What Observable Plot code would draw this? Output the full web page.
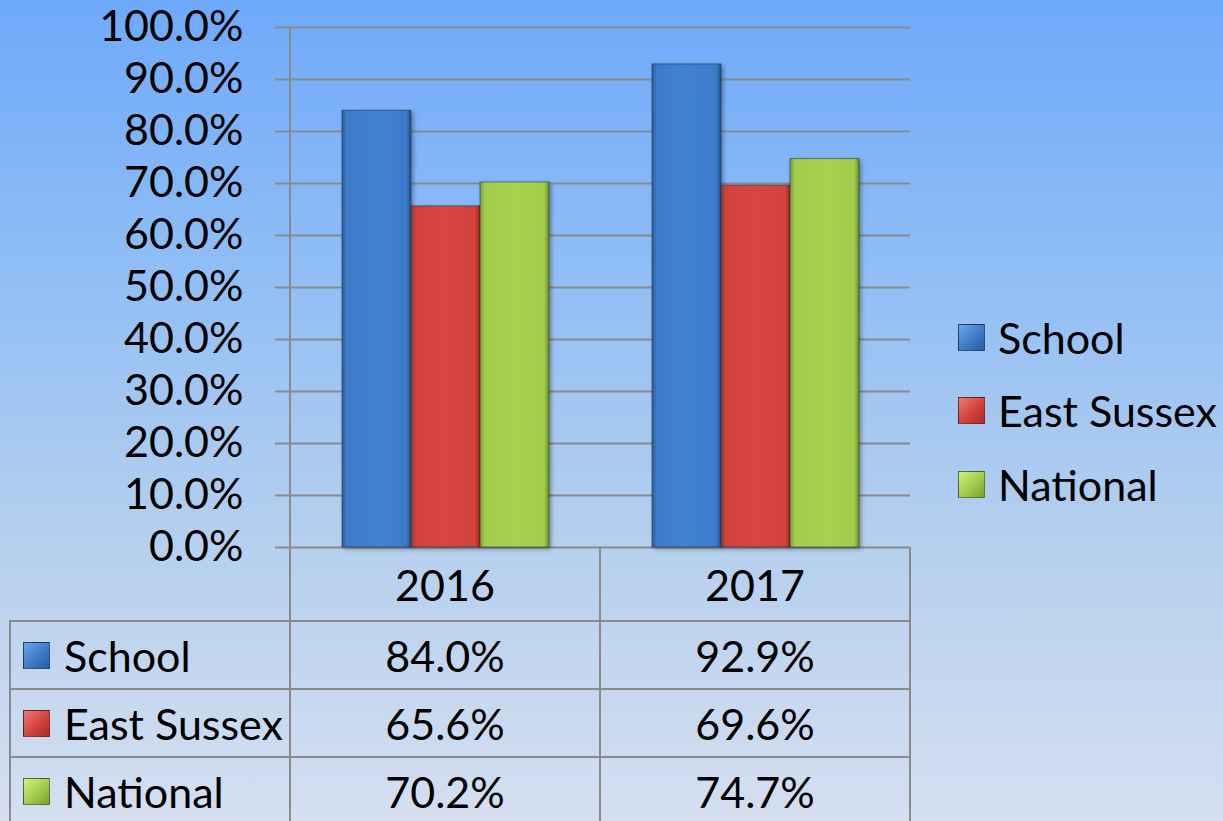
<!DOCTYPE html>
<html>
<head>
<meta charset="utf-8">
<script src="https://cdn.jsdelivr.net/npm/d3@7"></script>
<script src="https://cdn.jsdelivr.net/npm/@observablehq/plot@0.6"></script>
<style>
  html, body { margin: 0; padding: 0; }
  body {
    width: 1223px; height: 821px; overflow: hidden;
    background: linear-gradient(to bottom, #6ea9fa 0%, #8dbcf6 30%, #b4cfee 65%, #d5dff0 100%);
    font-family: Lato, "Open Sans", sans-serif;
  }
  #wrap { position: relative; width: 1223px; height: 821px; }
  #chart { position: absolute; left: 0; top: 0; }
  .cell { position: absolute; box-sizing: border-box; display: flex; align-items: center; font-size: 43px; color: #000; }
  .hline { position: absolute; height: 2px; background: #8a8a8a; }
  .vline { position: absolute; width: 2px; background: #8a8a8a; }
  .sw { width: 27px; height: 27px; box-sizing: border-box; border: 1px solid rgba(0,0,0,0.45); flex: none; }
  .legend-item { position: absolute; display: flex; align-items: center; font-size: 43px; }
</style>
</head>
<body>
<svg width="0" height="0" style="position:absolute">
  <defs>
    <linearGradient id="g0" x1="0" x2="1" y1="0" y2="0">
      <stop offset="0" stop-color="#2b5c9e"/><stop offset="0.07" stop-color="#3d7bc9"/>
      <stop offset="0.5" stop-color="#4282d3"/><stop offset="0.93" stop-color="#3d7bc9"/><stop offset="1" stop-color="#24508c"/>
    </linearGradient>
    <linearGradient id="g1" x1="0" x2="1" y1="0" y2="0">
      <stop offset="0" stop-color="#a4302c"/><stop offset="0.07" stop-color="#d3423d"/>
      <stop offset="0.5" stop-color="#d84640"/><stop offset="0.93" stop-color="#d3423d"/><stop offset="1" stop-color="#962a27"/>
    </linearGradient>
    <linearGradient id="g2" x1="0" x2="1" y1="0" y2="0">
      <stop offset="0" stop-color="#7a9c33"/><stop offset="0.07" stop-color="#a2cc4c"/>
      <stop offset="0.5" stop-color="#a8d152"/><stop offset="0.93" stop-color="#a2cc4c"/><stop offset="1" stop-color="#6e8e2c"/>
    </linearGradient>
    <filter id="shadow" x="-10%" y="-5%" width="130%" height="115%">
      <feDropShadow dx="2" dy="2" stdDeviation="2" flood-color="#000" flood-opacity="0.35"/>
    </filter>
  </defs>
</svg>
<div id="wrap"><div id="chart"></div></div>
<script>
// ---- data ----
const years = ["2016", "2017"];
const series = ["School", "East Sussex", "National"];
const school = [84.0, 92.9];
const eastSussex = [65.6, 69.6];
const national = [70.2, 74.7];
const yTicks = [0, 10, 20, 30, 40, 50, 60, 70, 80, 90, 100];

const seriesValues = [school, eastSussex, national];
const swatchCss = [
  "linear-gradient(135deg,#6aa6ee,#3d7bc9 55%,#2b5c9e)",
  "linear-gradient(135deg,#f07a74,#d3423d 55%,#a4302c)",
  "linear-gradient(135deg,#d4f07c,#a2cc4c 55%,#7a9c33)"
];
const data = years.flatMap((yr, i) => series.map((s, j) => ({year: yr, series: s, value: seriesValues[j][i], idx: j})));
const fmt = v => v.toFixed(1) + "%";

const chart = Plot.plot({
  width: 1223,
  height: 551,
  marginLeft: 290,
  marginRight: 313,
  marginTop: 27,
  marginBottom: 4,
  style: {background: "transparent", fontFamily: "Lato, 'Open Sans', sans-serif", fontSize: "43px", color: "#000", overflow: "visible"},
  fx: {domain: years, padding: 0, axis: null, label: null},
  x: {domain: series, paddingInner: 0, paddingOuter: 0.72, axis: null},
  y: {domain: [0, 100], ticks: yTicks, tickFormat: fmt, tickSize: 15, tickPadding: 32, label: null},
  color: {type: "identity"},
  marks: [
    Plot.ruleY(yTicks, {stroke: "#8a8a8a", strokeWidth: 2}),
    Plot.barY(data, {fx: "year", x: "series", y: "value", fill: d => `url(#g${d.idx})`, stroke: "#1f2f40", strokeOpacity: 0.55, strokeWidth: 1})
  ]
});
chart.querySelectorAll('[aria-label^="y-axis"] line, [aria-label^="y-axis"] path').forEach(el => {
  el.setAttribute("stroke", "#8a8a8a");
  el.setAttribute("stroke-width", "2");
});
chart.querySelectorAll('[aria-label="bar"] rect').forEach(el => el.setAttribute("filter", "url(#shadow)"));
document.getElementById("chart").appendChild(chart);

// ---- data table & legend (HTML overlay) ----
const wrap = document.getElementById("wrap");
function add(cls, css, html) {
  const d = document.createElement("div");
  d.className = cls;
  Object.assign(d.style, css);
  if (html != null) d.innerHTML = html;
  wrap.appendChild(d);
  return d;
}
const colEdges = [10, 290, 600, 910];
const headerTop = 547, headerH = 74, rowH = 68;
add("vline", {left: "289px", top: "27px", height: "520px"});
years.forEach((yr, i) => {
  add("cell", {left: colEdges[i + 1] + "px", top: headerTop + "px", width: (colEdges[i + 2] - colEdges[i + 1]) + "px", height: headerH + "px", justifyContent: "center"}, yr);
});
[1, 2, 3].forEach(k => add("vline", {left: (colEdges[k] - 1) + "px", top: headerTop + "px", height: (821 - headerTop) + "px"}));
add("vline", {left: (colEdges[0] - 1) + "px", top: (headerTop + headerH) + "px", height: "300px"});
series.forEach((s, j) => {
  const top = headerTop + headerH + j * rowH;
  add("hline", {left: (colEdges[0] - 1) + "px", top: (top - 1) + "px", width: (colEdges[3] - colEdges[0] + 2) + "px"});
  add("cell", {left: "23px", top: top + "px", width: "267px", height: rowH + "px"},
      `<div class="sw" style="background:${swatchCss[j]}"></div><span style="margin-left:14px">${s}</span>`);
  years.forEach((yr, i) => {
    add("cell", {left: colEdges[i + 1] + "px", top: top + "px", width: (colEdges[i + 2] - colEdges[i + 1]) + "px", height: rowH + "px", justifyContent: "center"}, fmt(seriesValues[j][i]));
  });
});
add("hline", {left: (colEdges[0] - 1) + "px", top: (headerTop + headerH + 3 * rowH - 1) + "px", width: (colEdges[3] - colEdges[0] + 2) + "px"});
const legendY = [337, 410, 484];
series.forEach((s, j) => {
  add("legend-item", {left: "958px", top: (legendY[j] - 26) + "px", height: "52px"},
      `<div class="sw" style="background:${swatchCss[j]}"></div><span style="margin-left:13px">${s}</span>`);
});
</script>
</body>
</html>
